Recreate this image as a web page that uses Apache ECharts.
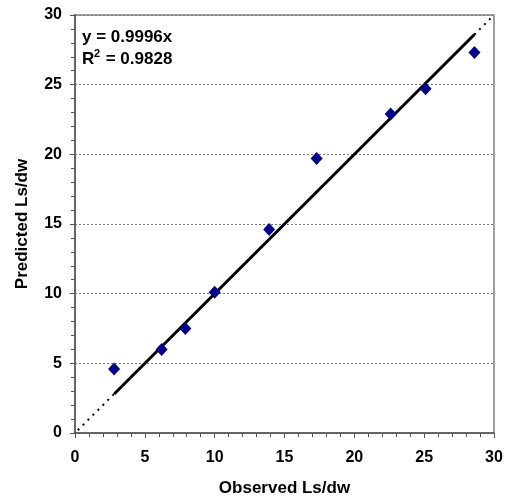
<!DOCTYPE html>
<html>
<head>
    <meta charset="utf-8">
    <title>Observed vs Predicted</title>
    <script src="https://cdn.jsdelivr.net/npm/echarts@6.0.0/dist/echarts.min.js"></script>
    <style>
        html, body { margin: 0; padding: 0; background: #fff; }
        #chart { width: 505px; height: 499px; }
    </style>
</head>
<body>
    <div id="chart"></div>
    <script>
        // measured points
        const observed  = [2.8, 6.2, 7.9, 10.0, 13.9, 17.3, 22.6, 25.1, 28.6];
        const predicted = [4.6, 6.0, 7.5, 10.1, 14.6, 19.7, 22.9, 24.7, 27.3];
        // trend line y = 0.9996x, solid over data range, dotted to the edges
        const trendX = [2.8, 28.6];
        const trendY = [2.8, 28.6];
        const extX = [0.2, 30];
        const extY = [0.2, 30];
        const eqText = ['y = 0.9996x', 'R² = 0.9828'];

        const chart = echarts.init(document.getElementById('chart'));
        const font = '"Liberation Sans", Arial, sans-serif';

        const axisCommon = {
            type: 'value',
            min: 0, max: 30, interval: 5,
            axisLine: { show: true, lineStyle: { color: '#555', width: 1.5 } },
            axisTick: { show: true, inside: false, length: 5, lineStyle: { color: '#555' } },
            minorTick: { show: true, splitNumber: 5, length: 4, lineStyle: { color: '#555' } },
            axisLabel: { color: '#000', fontFamily: font, fontWeight: 'bold', fontSize: 16 },
            nameTextStyle: { color: '#000', fontFamily: font, fontWeight: 'bold', fontSize: 17 },
            nameLocation: 'middle'
        };

        chart.setOption({
            animation: false,
            grid: {
                left: 75, right: 11, top: 15, bottom: 66,
                outerBoundsMode: 'none', containLabel: false,
                show: true, borderColor: '#a0a0a0', borderWidth: 2
            },
            xAxis: Object.assign({}, axisCommon, {
                name: 'Observed Ls/dw', nameGap: 47,
                splitLine: { show: false },
                axisLabel: Object.assign({}, axisCommon.axisLabel, { margin: 17 })
            }),
            yAxis: Object.assign({}, axisCommon, {
                name: 'Predicted Ls/dw', nameGap: 44,
                splitLine: { show: true, lineStyle: { color: '#777', type: [2, 2], width: 1 } },
                axisLabel: Object.assign({}, axisCommon.axisLabel, { margin: 13 })
            }),
            graphic: [{
                type: 'text', left: 82, top: 29,
                style: { text: eqText[0], font: 'bold 17px ' + font, fill: '#000' }
            }, {
                type: 'text', left: 82, top: 51,
                style: { text: 'R', font: 'bold 17px ' + font, fill: '#000' }
            }, {
                type: 'text', left: 94, top: 48,
                style: { text: '2', font: 'bold 11px ' + font, fill: '#000' }
            }, {
                type: 'text', left: 101, top: 51,
                style: { text: eqText[1].slice(2), font: 'bold 17px ' + font, fill: '#000' }
            }],
            series: [{
                type: 'line',
                data: extX.map((x, i) => [x, extY[i]]),
                symbol: 'none',
                lineStyle: { color: '#000', width: 2, type: [2, 5] },
                z: 2
            }, {
                type: 'line',
                data: trendX.map((x, i) => [x, trendY[i]]),
                symbol: 'none',
                lineStyle: { color: '#000', width: 3 },
                z: 3
            }, {
                type: 'scatter',
                data: observed.map((x, i) => [x, predicted[i]]),
                symbol: 'diamond',
                symbolSize: [12, 13],
                itemStyle: { color: '#00008b', opacity: 1 },
                z: 4
            }]
        });
    </script>
</body>
</html>
